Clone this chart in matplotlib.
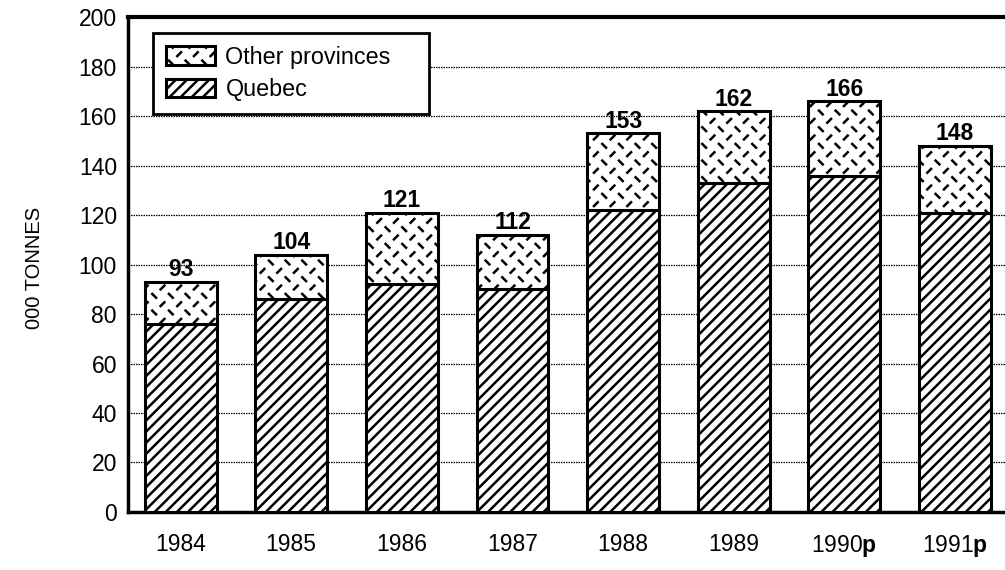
import warnings
import numpy as np
import matplotlib
matplotlib.use("Agg")
import matplotlib.pyplot as plt
import matplotlib.hatch as mhatch
from matplotlib.path import Path

warnings.filterwarnings("ignore")

# annual shipments, thousand tonnes
years = ["1984", "1985", "1986", "1987", "1988", "1989",
         "1990$\\mathbf{p}$", "1991$\\mathbf{p}$"]
quebec = [76, 86, 92, 90, 122, 133, 136, 121]
totals = [93, 104, 121, 112, 153, 162, 166, 148]
other = [t - q for t, q in zip(totals, quebec)]
yticks = list(range(0, 201, 20))


class DashHatch(mhatch.HatchPatternBase):
    """Staggered short dashes, rows alternating between '\\' and '/'."""

    def __init__(self, hatch, density):
        n = hatch.count("k")
        self.cols = 6 if n else 0
        self.rows = 12 if n else 0
        self.num_vertices = self.cols * self.rows * 2

    def set_vertices_and_codes(self, vertices, codes):
        d = 0.019
        k = 0
        for j in range(self.rows):
            y = (j + 0.5) / self.rows
            s = 1 if j % 2 else -1
            for i in range(self.cols):
                x = (i + 0.25 + 0.5 * (j % 2)) / self.cols
                vertices[k] = (x - d, y - s * d)
                vertices[k + 1] = (x + d, y + s * d)
                codes[k] = Path.MOVETO
                codes[k + 1] = Path.LINETO
                k += 2


mhatch._hatch_types.append(DashHatch)

plt.rcParams["font.family"] = ["Liberation Sans", "DejaVu Sans"]
plt.rcParams["mathtext.fontset"] = "custom"
plt.rcParams["mathtext.rm"] = "Liberation Sans"
plt.rcParams["mathtext.bf"] = "Liberation Sans:bold"
plt.rcParams["hatch.linewidth"] = 1.8
plt.rcParams["hatch.color"] = "black"

fig = plt.figure(figsize=(10.05, 5.7), dpi=100)
ax = fig.add_axes([0.1274, 0.1018, 0.889, 0.868])

x = np.arange(len(years))
w = 0.65
ax.bar(x, quebec, w, color="white", edgecolor="black", linewidth=2.2,
       hatch="///", label="Quebec", zorder=3)
ax.bar(x, other, w, bottom=quebec, color="white", edgecolor="black",
       linewidth=2.2, hatch="k", label="Other provinces", zorder=3)

for xi, t in zip(x, totals):
    ax.annotate(str(t), (xi, t), xytext=(0, 4), textcoords="offset points",
                ha="center", va="baseline", fontsize=16.5, fontweight="bold",
                zorder=4)

ax.set_xlim(-0.475, 7.6)
ax.set_ylim(0, 200)
ax.set_yticks(yticks)
ax.set_xticks(x)
ax.set_xticklabels(years)
ax.tick_params(axis="both", length=0, labelsize=16.5)
ax.tick_params(axis="y", pad=8)
ax.tick_params(axis="x", pad=15)

ax.yaxis.grid(True, linestyle=(0, (1.2, 0.8)), color="black", linewidth=0.9)
ax.set_axisbelow(True)

for side in ["left", "bottom"]:
    ax.spines[side].set_linewidth(2.5)
ax.spines["top"].set_linewidth(3)
ax.spines["right"].set_visible(False)

fig.text(35 / 1005, 0.53, "000 TONNES", rotation=90, ha="center",
         va="center", fontsize=14.5)

handles, labels = ax.get_legend_handles_labels()
leg = ax.legend(handles[::-1], labels[::-1], loc="upper left",
                bbox_to_anchor=(0.028, 0.816, 0.309, 0.152), mode="expand",
                fontsize=16.8, fancybox=False, edgecolor="black",
                framealpha=1, borderaxespad=0, handlelength=2.1,
                handleheight=0.85, handletextpad=0.45, labelspacing=0.4,
                borderpad=0.55)
leg.get_frame().set_linewidth(2)
leg.set_zorder(5)

fig.savefig("out.png", dpi=100)
